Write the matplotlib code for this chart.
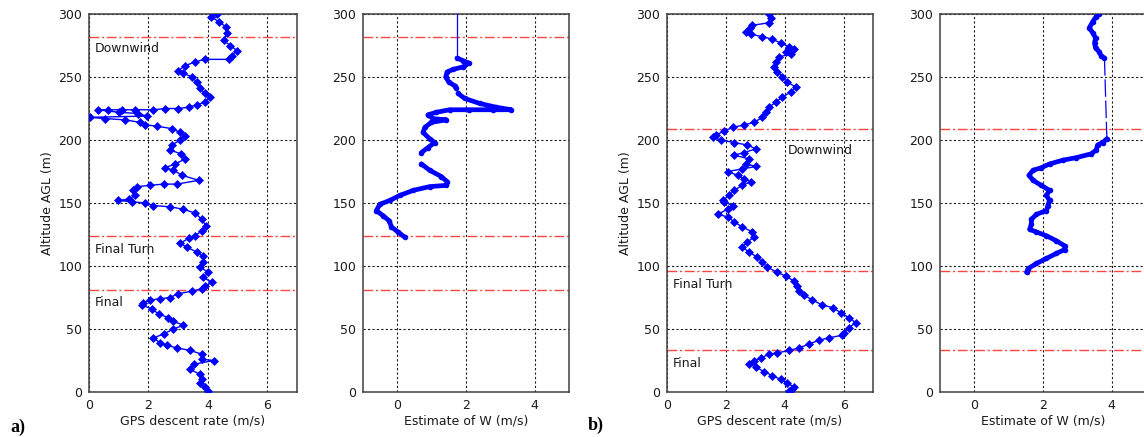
import numpy as np
import matplotlib
matplotlib.use("Agg")
import matplotlib.pyplot as plt

nan = np.nan

# ---- case a) : GPS descent rate vs altitude
alt_a = [
    300, 298, 294, 290, 285, 279, 275, 271, 267, 264,
    264, 262, 259, 255, 253, 250, 246, 241, 237, 234,
    230, 228, 226, 225, 225, 224, 224, 224, 224, 224,
    222, 221, 219, 218, 217, 216, 214, 212, 211, 209,
    206, 203, 200, 196, 192, 189, 185, 181, 178, 176,
    172, 168, 165, 165, 164, 163, 160, 156, 153, 152,
    151, 150, 148, 147, 145, 142, 137, 132, 128, 124,
    122, 118, 115, 111, 108, 103, 99, 95, 91, 87,
    84, 82, 80, 78, 75, 74, 73, 71, 69, 66,
    62, 59, 56, 53, 50, 46, 43, 39, 37, 35,
    33, 30, 26, 25, 22, 18, 14, 10, 7, 4,
    1]
gps_a = [
    4.30, 4.10, 4.36, 4.60, 4.64, 4.53, 4.75, 4.98, 4.80, 4.70,
    3.90, 3.57, 3.24, 3.00, 3.18, 3.46, 3.63, 3.74, 3.90, 4.08,
    3.90, 3.63, 3.35, 3.00, 2.56, 2.17, 1.55, 1.10, 0.65, 0.30,
    1.00, 1.66, 1.94, 0.03, 0.54, 1.21, 1.72, 1.90, 2.28, 2.79,
    3.07, 3.24, 3.07, 2.79, 2.73, 3.10, 3.24, 2.90, 2.56, 2.84,
    3.13, 3.69, 2.96, 2.51, 2.06, 1.61, 1.49, 1.55, 1.33, 0.99,
    1.44, 1.89, 2.17, 2.73, 3.18, 3.57, 3.80, 3.93, 3.80, 3.57,
    3.35, 3.07, 3.29, 3.63, 3.85, 3.85, 3.74, 4.02, 3.85, 4.13,
    3.90, 3.80, 3.46, 3.00, 2.73, 2.39, 2.06, 1.83, 1.78, 2.11,
    2.34, 2.67, 2.84, 3.18, 2.84, 2.51, 2.17, 2.39, 2.62, 2.96,
    3.40, 3.80, 3.80, 4.20, 3.52, 3.40, 3.74, 3.80, 3.74, 3.90,
    4.02]

# ---- case a) : estimate of W
alt_wa = [
    265, 263, 261, 258, 256, 254, 250, 246, 243, 241,
    nan, 237, 233, 229, 226, 224, 224, 224, 224, 222,
    220, 217, 216, 214, 210, 206, 201, 198, 194, 190,
    nan, 181, 176, 171, 167, 164, 163, 160, 156, 152,
    149, 144, 140, 136, 131, 127, 123]
w_a = [
    1.74, 1.91, 2.09, 1.91, 1.62, 1.45, 1.41, 1.50, 1.67, 1.72,
    nan, 1.77, 1.96, 2.40, 2.88, 3.32, 2.79, 2.10, 1.52, 1.14,
    0.89, 1.04, 1.43, 0.99, 0.80, 0.75, 0.94, 1.09, 0.89, 0.70,
    nan, 0.70, 0.94, 1.28, 1.45, 1.43, 0.94, 0.46, 0.07, -0.22,
    -0.51, -0.61, -0.42, -0.24, -0.17, 0.02, 0.21]
alt_wa_hold = [300, 265]
w_a_hold = [1.74, 1.74]

# ---- case b) : GPS descent rate vs altitude
alt_b = [
    300, 297, 293, 291, 289, 286, 284, 282, 280, 277,
    274, 272, 270, 268, 266, 262, 258, 254, 250, 246,
    242, 238, 234, 230, 226, 222, 218, 214, 212, 210,
    207, 204, 202, 200, 198, 196, 193, 190, 188, 185,
    181, 179, 177, 175, 172, 169, 167, 164, 160, 156,
    152, 151, 148, 145, 141, 139, 135, 131, 127, 123,
    119, 115, 111, 107, 103, 99, 95, 92, 88, 84,
    80, 77, 73, 69, 67, 63, 59, 55, 51, 47,
    45, 43, 41, 38, 35, 33, 31, 30, 27, 25,
    22, 20, 16, 13, 10, 7, 4, 2, 1]
gps_b = [
    3.45, 3.53, 3.45, 2.90, 2.81, 2.68, 2.85, 3.24, 3.58, 3.86,
    4.15, 4.32, 4.06, 4.20, 3.80, 3.69, 3.64, 3.75, 3.92, 4.09,
    4.37, 4.20, 3.92, 3.69, 3.47, 3.36, 3.24, 2.96, 2.62, 2.23,
    1.94, 1.66, 1.55, 1.83, 2.28, 2.73, 3.02, 2.62, 2.28, 2.79,
    2.68, 3.02, 2.56, 2.06, 2.40, 2.62, 2.85, 2.56, 2.28, 2.11,
    1.89, 1.94, 2.23, 2.06, 1.72, 2.06, 2.28, 2.56, 2.90, 2.96,
    2.73, 2.56, 2.79, 3.07, 3.24, 3.41, 3.75, 4.03, 4.32, 4.43,
    4.49, 4.66, 4.94, 5.28, 5.63, 5.90, 6.18, 6.41, 6.18, 6.00,
    5.95, 5.50, 5.16, 4.82, 4.49, 4.15, 3.75, 3.47, 3.19, 2.96,
    2.79, 3.02, 3.30, 3.58, 3.86, 4.09, 4.32, 4.26, 4.15]

# ---- case b) : estimate of W
alt_wb = [
    300, 298, 294, 289, 285, 281, 277, 273, 270, 267,
    265, nan,
    201, 198, 196, 192, 189, 186, 184, 181, 178, 176,
    172, 168, 164, 160, 156, 152, 148, 144, 141, 137,
    133, 129, 127, 124, 120, 116, 113, 110, 106, 102,
    98, 95]
w_b = [
    3.64, 3.55, 3.45, 3.35, 3.45, 3.53, 3.50, 3.53, 3.64, 3.69,
    3.79, nan,
    3.86, 3.74, 3.59, 3.55, 3.40, 2.97, 2.58, 2.19, 1.95, 1.71,
    1.59, 1.71, 1.95, 2.19, 2.10, 2.19, 2.14, 2.10, 1.81, 1.66,
    1.66, 1.61, 1.81, 2.10, 2.39, 2.63, 2.63, 2.39, 2.10, 1.81,
    1.57, 1.52]
alt_wb_hold = [265, 201]
w_b_hold = [3.79, 3.86]

# flight phase boundaries and labels
phases_a = [282, 124, 81]
phases_b = [209, 96, 33]
labels_a = [("Downwind", 0.2, 273), ("Final Turn", 0.2, 113), ("Final", 0.2, 71)]
labels_b = [("Downwind", 4.1, 192), ("Final Turn", 0.2, 85), ("Final", 0.2, 23)]

plt.rcParams['font.family'] = ['DejaVu Sans']
plt.rcParams['font.size'] = 9

W, H = 1144, 437
fig = plt.figure(figsize=(W / 100, H / 100), dpi=100)
FS = 9


def make_axes(left, right, xlim, xticks):
    ax = fig.add_axes([left / W, (H - 392) / H, (right - left) / W, (392 - 14) / H])
    ax.set_xlim(*xlim)
    ax.set_ylim(0, 300)
    ax.set_xticks(xticks)
    ax.set_yticks(range(0, 301, 50))
    ax.grid(True, color='0.1', linestyle=(0, (2, 2)), linewidth=0.8)
    ax.tick_params(direction='in', length=0, labelsize=FS, pad=5, labelcolor='0.1')
    for s in ax.spines.values():
        s.set_linewidth(1.1)
        s.set_color('0.25')
    return ax


def phase_lines(ax, phases):
    for p in phases:
        ax.axhline(p, color='#ff4444', linestyle=(0, (7, 2, 1.5, 2)), linewidth=1.0, zorder=2)


def gps_plot(ax, alt, val):
    ax.plot(val, alt, '-', color='#0000ff', linewidth=1.0, marker='D', markersize=4.3,
            markeredgewidth=0.5, zorder=3)


def w_plot(ax, alt, val, alt_hold, val_hold, dashed):
    ax.plot(val, alt, '-', color='#0000ff', linewidth=3.4, marker='.', markersize=6,
            solid_capstyle='round', zorder=3)
    ls = (0, (14, 3)) if dashed else '-'
    ax.plot(val_hold, alt_hold, color='#0000ff', linewidth=0.9, linestyle=ls, zorder=3)


ax1 = make_axes(89, 297, (0, 7), [0, 2, 4, 6])
phase_lines(ax1, phases_a)
gps_plot(ax1, alt_a, gps_a)
for txt, x, y in labels_a:
    ax1.text(x, y, txt, va='center', ha='left', fontsize=FS, color='0.1')
ax1.set_xlabel("GPS descent rate (m/s)", fontsize=FS, labelpad=2, color='0.1')
ax1.set_ylabel("Altitude AGL (m)", fontsize=FS, labelpad=3, color='0.1')

ax2 = make_axes(363, 569, (-1, 5), [0, 2, 4])
phase_lines(ax2, phases_a)
w_plot(ax2, alt_wa, w_a, alt_wa_hold, w_a_hold, False)
ax2.set_xlabel("Estimate of W (m/s)", fontsize=FS, labelpad=2, color='0.1')

ax3 = make_axes(667, 873, (0, 7), [0, 2, 4, 6])
phase_lines(ax3, phases_b)
gps_plot(ax3, alt_b, gps_b)
for txt, x, y in labels_b:
    ax3.text(x, y, txt, va='center', ha='left', fontsize=FS, color='0.1')
ax3.set_xlabel("GPS descent rate (m/s)", fontsize=FS, labelpad=2, color='0.1')
ax3.set_ylabel("Altitude AGL (m)", fontsize=FS, labelpad=3, color='0.1')

ax4 = make_axes(940, 1146, (-1, 5), [0, 2, 4])
phase_lines(ax4, phases_b)
w_plot(ax4, alt_wb, w_b, alt_wb_hold, w_b_hold, True)
ax4.set_xlabel("Estimate of W (m/s)", fontsize=FS, labelpad=2, color='0.1')

fig.text(10 / W, 1 - 427 / H, "a)", family='Liberation Serif', weight='bold',
         fontsize=13, va='center', ha='left')
fig.text(588 / W, 1 - 425 / H, "b)", family='Liberation Serif', weight='bold',
         fontsize=13, va='center', ha='left')

fig.savefig("out.png", dpi=100)
